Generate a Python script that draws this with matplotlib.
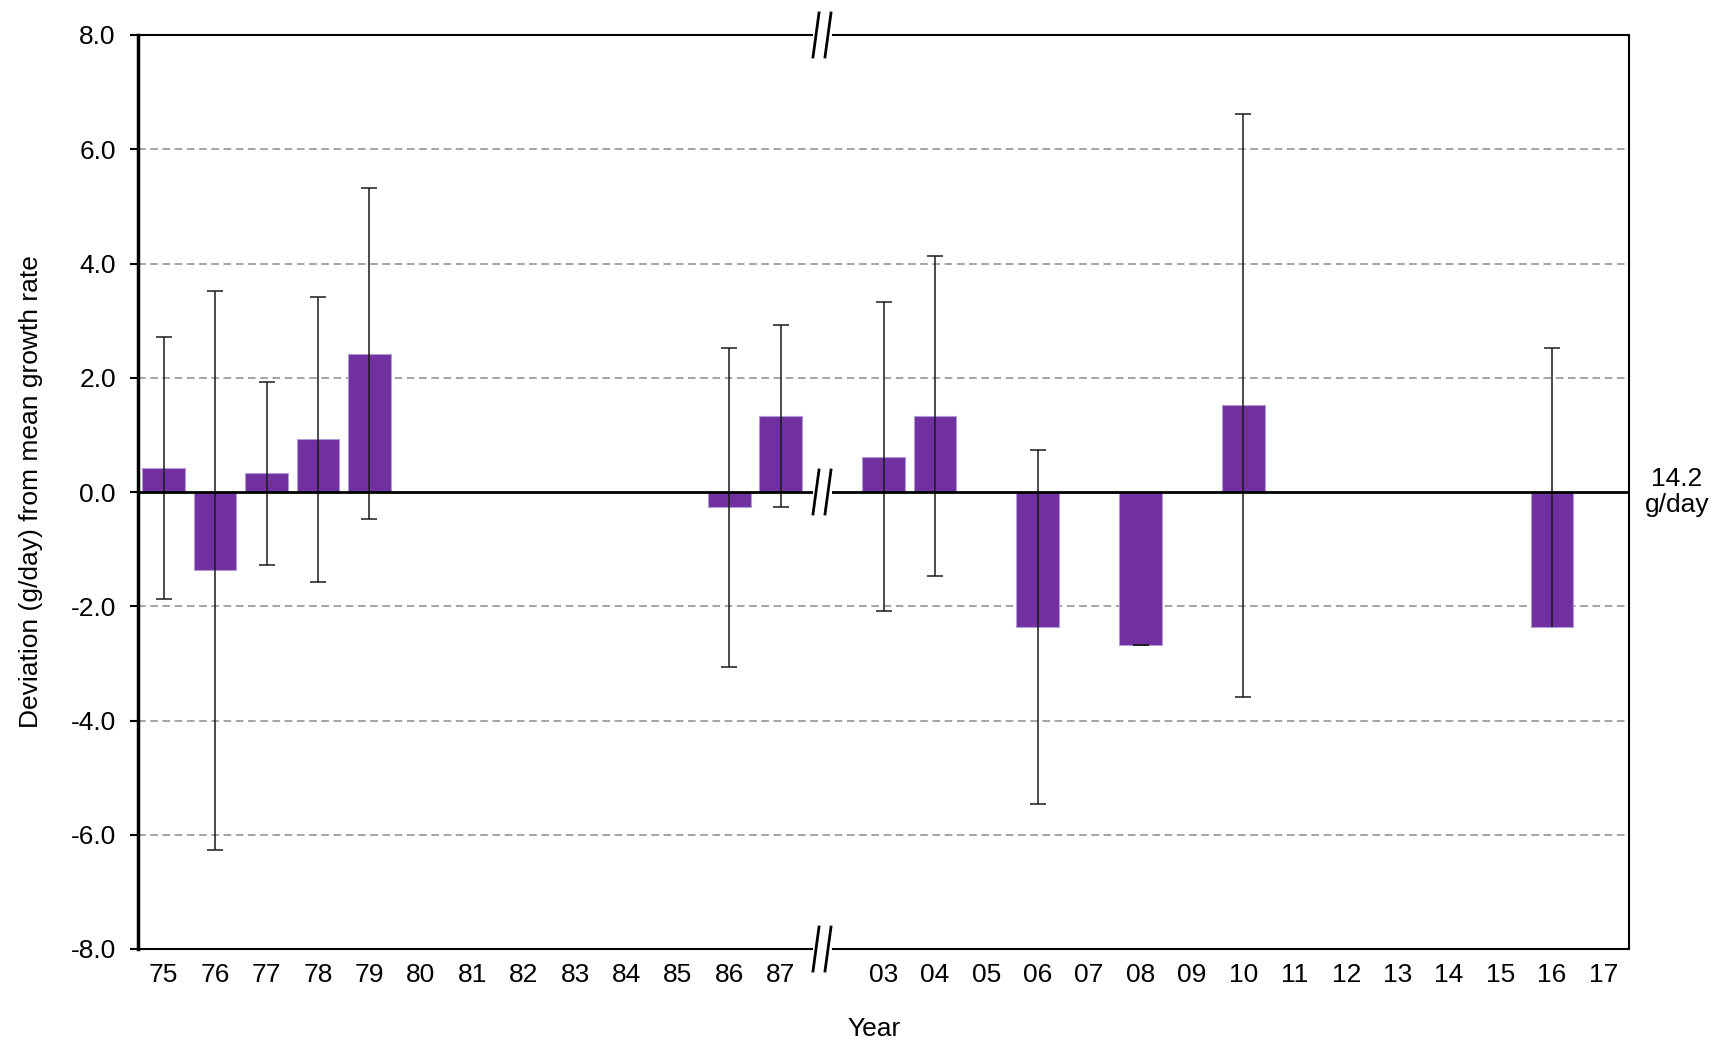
import numpy as np
import matplotlib.pyplot as plt
from matplotlib.lines import Line2D
import matplotlib.transforms as mtransforms

plt.rcParams['font.family'] = ['Liberation Sans', 'DejaVu Sans']

# first block of years, then a break, then second block
years_a = ['75', '76', '77', '78', '79', '80', '81', '82', '83', '84', '85', '86', '87']
years_b = ['03', '04', '05', '06', '07', '08', '09', '10', '11', '12', '13', '14', '15', '16', '17']

nan = np.nan
dev_a = [0.42, -1.37, 0.33, 0.92, 2.42, nan, nan, nan, nan, nan, nan, -0.27, 1.33]
err_a = [2.30, 4.89, 1.60, 2.50, 2.90, nan, nan, nan, nan, nan, nan, 2.79, 1.60]

dev_b = [0.62, 1.33, nan, -2.37, nan, -2.67, nan, 1.52, nan, nan, nan, nan, nan, -2.37, nan]
err_hi_b = [2.70, 2.80, nan, 3.10, nan, 0.0, nan, 5.10, nan, nan, nan, nan, nan, 4.89, nan]
err_lo_b = [2.70, 2.80, nan, 3.10, nan, 0.0, nan, 5.10, nan, nan, nan, nan, nan, 0.0, nan]

mean_label = '14.2\ng/day'

labels = years_a + years_b
x = np.concatenate([np.arange(len(years_a)), np.arange(len(years_b)) + len(years_a) + 1])
dev = np.array(dev_a + dev_b, dtype=float)
err_lo = np.array(err_a + err_lo_b, dtype=float)
err_hi = np.array(err_a + err_hi_b, dtype=float)

fig = plt.figure(figsize=(17.22, 10.46), dpi=100)
ax = fig.add_axes([138 / 1722, 1 - 949 / 1046, 1491 / 1722, 914 / 1046])

ok = ~np.isnan(dev)
ax.bar(x[ok], dev[ok], width=0.83, color='#7030A0', edgecolor='#b39ad6', linewidth=0.8, zorder=3)
_, caps, _ = ax.errorbar(x[ok], dev[ok], yerr=[err_lo[ok], err_hi[ok]], fmt='none', ecolor='#1a1a1a',
                         elinewidth=1.1, capsize=6, capthick=1.1, zorder=4)
# no lower cap where there is no lower error bar (except the zero-length one)
lo_keep = [i for i, (lo, hi) in enumerate(zip(err_lo[ok], err_hi[ok])) if lo > 0 or hi == 0]
caps[0].set_markevery(lo_keep)

ax.set_xlim(-0.5, x[-1] + 0.5)
ax.set_ylim(-8, 8)
ax.set_yticks(np.arange(-8, 8.1, 2))
ax.set_yticklabels([f'{v:.1f}' for v in np.arange(-8, 8.1, 2)])
ax.set_xticks(x)
ax.set_xticklabels(labels)
ax.tick_params(axis='x', length=0, pad=10, labelsize=19)
ax.tick_params(axis='y', length=6, width=1.5, pad=10, labelsize=19)

for v in [-6, -4, -2, 2, 4, 6]:
    ax.axhline(v, color='#8c8c8c', lw=1.1, ls=(0, (5, 3)), zorder=1)
ax.axhline(0, color='black', lw=2, zorder=5)

for side in ['top', 'bottom', 'right']:
    ax.spines[side].set_linewidth(1.5)
ax.spines['left'].set_linewidth(2.5)

ax.set_ylabel('Deviation (g/day) from mean growth rate', fontsize=19, labelpad=20)
ax.set_xlabel('Year', fontsize=19)
ax.xaxis.set_label_coords(0.494, -0.074)

trans = mtransforms.blended_transform_factory(ax.transAxes, ax.transData)
ax.text(1.032, 0, mean_label, transform=trans, ha='center', va='center', fontsize=19, linespacing=1.1)

# axis break marks "//" on top spine, zero line and bottom spine
bx = (822 - 138) / 1491
px_x, px_y = 1 / 1491, 1 / 914
for yb in [0.0, 0.5, 1.0]:
    ax.add_line(Line2D([bx - 6 * px_x, bx + 6 * px_x], [yb, yb], transform=ax.transAxes,
                       color='white', lw=5, clip_on=False, zorder=10))
    for off in [-6, 6]:
        xc = bx + off * px_x
        ax.add_line(Line2D([xc - 3 * px_x, xc + 3 * px_x], [yb - 22 * px_y, yb + 22 * px_y],
                           transform=ax.transAxes, color='black', lw=2, clip_on=False, zorder=11))

fig.savefig('out.png', dpi=100)
